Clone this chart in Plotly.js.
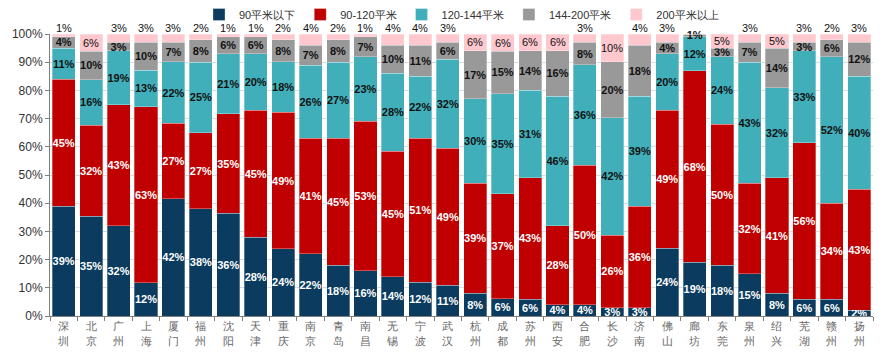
<!DOCTYPE html>
<html><head><meta charset="utf-8">
<script src="https://cdn.plot.ly/plotly-3.0.1.min.js"></script>
<style>html,body{margin:0;padding:0;background:#fff}#c{width:889px;height:358px}</style>
</head><body><div id="c"></div>
<script>
const cities = ['深圳','北京','广州','上海','厦门','福州','沈阳','天津','重庆','南京','青岛','南昌','无锡','宁波','武汉','杭州','成都','苏州','西安','合肥','长沙','济南','佛山','廊坊','东莞','泉州','绍兴','芜湖','赣州','扬州'];
const s90  = [39,35,32,12,42,38,36,28,24,22,18,16,14,12,11,8,6,6,4,4,3,3,24,19,18,15,8,6,6,2];
const s120 = [45,32,43,63,27,27,35,45,49,41,45,53,45,51,49,39,37,43,28,50,26,36,49,68,50,32,41,56,34,43];
const s144 = [11,16,19,13,22,25,21,20,18,26,27,23,28,22,32,30,35,31,46,36,42,39,20,12,24,43,32,33,52,40];
const s200 = [4,10,3,10,7,8,6,6,8,7,8,7,10,11,6,17,15,14,16,8,20,18,4,1,3,7,14,3,6,12];
const sTop = [1,6,3,3,3,2,1,1,2,4,2,1,4,4,3,6,6,6,6,3,10,4,3,0,5,3,5,3,2,3];
const names = ['90平米以下','90-120平米','120-144平米','144-200平米','200平米以上'];
const colors = ['#0B3B5E','#C00000','#41AFBA','#999999','#FFC7CE'];
const tickText = cities.map(c => c.split('').join('<br>'));

const F = 'Liberation Sans, Arial, sans-serif';
const series = [s90, s120, s144, s200, sTop];
const txtColors = ['#FFFFFF','#FFFFFF','#111111','#111111','#111111'];
const traces = series.map((vals, i) => {
  const isTop = i === 4;
  return {
    type: 'bar', name: names[i], x: cities, y: vals,
    marker: {color: colors[i], line: {color: 'rgba(255,255,255,0.6)', width: 0.5}},
    text: isTop ? null : vals.map(v => v ? v + '%' : ''),
    textposition: isTop ? 'none' : 'inside',
    insidetextanchor: 'middle',
    constraintext: 'none',
    textangle: 0,
    cliponaxis: false,
    textfont: {family: F, size: 11, color: txtColors[i], weight: 'bold'},
    insidetextfont: {family: F, size: 11, color: txtColors[i], weight: 'bold'},
    hoverinfo: 'skip'
  };
});

// labels for the top (200平米以上) segment, positioned from normalised data
const annotations = [];
cities.forEach((c, k) => {
  const v = sTop[k];
  if (!v) return;
  const total = s90[k] + s120[k] + s144[k] + s200[k] + sTop[k];
  const h = v / total * 100;
  const big = v >= 5;
  annotations.push({
    x: c, y: big ? 100 - h / 2 : 100, xref: 'x', yref: 'y',
    text: v + '%', showarrow: false,
    yanchor: big ? 'middle' : 'bottom', yshift: big ? 0 : -2,
    font: {family: F, size: 11, color: '#111'}
  });
});

const layout = {
  width: 889, height: 358,
  margin: {l: 50, r: 16, t: 34, b: 42},
  barmode: 'stack', barnorm: 'percent', bargap: 0.16,
  paper_bgcolor: '#fff', plot_bgcolor: '#fff',
  font: {family: F, size: 11, color: '#333'},
  showlegend: true,
  legend: {orientation: 'h', x: 0.5, xanchor: 'center', y: 1, yanchor: 'top', yref: 'container',
           bgcolor: 'rgba(0,0,0,0)', font: {family: F, size: 11, color: '#333'}, traceorder: 'normal', itemwidth: 30},
  annotations: annotations,
  xaxis: {
    type: 'category', tickmode: 'array', tickvals: cities, ticktext: tickText,
    showline: true, linecolor: '#7F7F7F', linewidth: 1,
    ticks: 'outside', tickson: 'boundaries', ticklen: 4, tickcolor: '#7F7F7F',
    tickfont: {family: F, size: 11, color: '#666'}, showgrid: false
  },
  yaxis: {
    range: [0, 100], tickvals: [0,10,20,30,40,50,60,70,80,90,100],
    ticktext: ['0%','10%','20%','30%','40%','50%','60%','70%','80%','90%','100%'],
    showline: true, linecolor: '#7F7F7F', linewidth: 1,
    ticks: 'outside', ticklen: 4, tickcolor: '#7F7F7F',
    gridcolor: '#D9D9D9', gridwidth: 1,
    tickfont: {family: F, size: 12, color: '#333'}, zeroline: false
  }
};
Plotly.newPlot('c', traces, layout, {displayModeBar: false, staticPlot: true});
</script></body></html>
